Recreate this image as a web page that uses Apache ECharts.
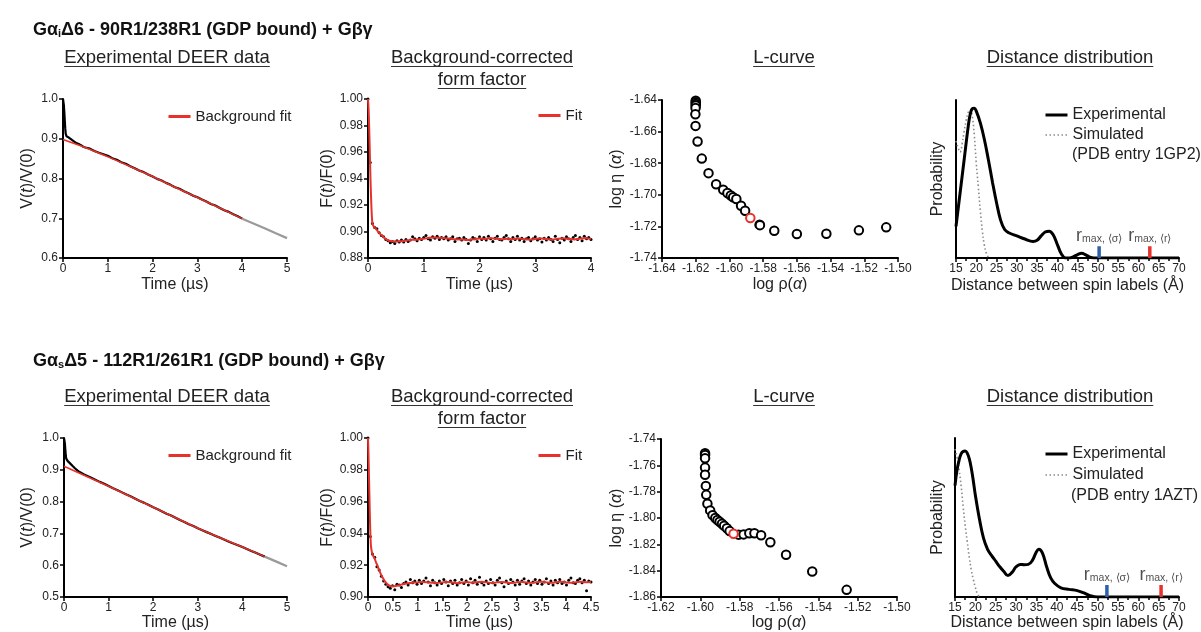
<!DOCTYPE html>
<html><head><meta charset="utf-8">
<script src="https://cdn.jsdelivr.net/npm/echarts@6/dist/echarts.min.js"></script>
<style>html,body{margin:0;padding:0;background:#fff}#c{width:1201px;height:632px}</style>
</head><body><div id="c"></div>
<script>
// ---------------- DATA ----------------
const headings = ['{b|Gα}{sub|i}{b|Δ6 - 90R1/238R1 (GDP bound) + Gβγ}', '{b|Gα}{sub|s}{b|Δ5 - 112R1/261R1 (GDP bound) + Gβγ}'];
const panelTitles = [['Experimental DEER data'], ['Background-corrected', 'form factor'], ['L-curve'], ['Distance distribution']];
const pdbEntries = ['(PDB entry 1GP2)', '(PDB entry 1AZT)'];

// Row 1 DEER (time µs, V(t)/V(0))
const deer1Trace = [[0,1.000],[0.01,0.995],[0.02,0.983],[0.03,0.965],[0.04,0.945],[0.05,0.926],[0.06,0.913],[0.07,0.908],[0.08,0.906],[0.1,0.904],[0.13,0.903],[0.16,0.901],[0.2,0.897],[0.25,0.893],[0.3,0.889],[0.35,0.887],[0.4,0.884],[0.45,0.880],[0.5,0.878],[0.6,0.875],[0.7,0.869],[0.8,0.865],[0.9,0.861],[1.0,0.857],[1.1,0.851],[1.2,0.847],[1.3,0.841],[1.4,0.837],[1.5,0.831],[1.6,0.826],[1.7,0.820],[1.8,0.816],[1.9,0.810],[2.0,0.805],[2.1,0.799],[2.2,0.795],[2.3,0.789],[2.4,0.784],[2.5,0.778],[2.6,0.774],[2.7,0.768],[2.8,0.763],[2.9,0.757],[3.0,0.753],[3.1,0.747],[3.2,0.742],[3.3,0.736],[3.4,0.732],[3.5,0.726],[3.6,0.720],[3.7,0.716],[3.8,0.710],[3.9,0.705],[4.0,0.699]];
const deer1Tail = [[4.0,0.699],[4.25,0.687],[4.5,0.675],[4.75,0.662],[5.0,0.650]];
const deer1Fit = [[0,0.898],[0.5,0.878],[1.0,0.855],[1.5,0.830],[2.0,0.805],[2.5,0.778],[3.0,0.752],[3.5,0.726],[4.0,0.699]];

// Row 2 DEER
const deer2Trace = [[0,1.000],[0.01,0.995],[0.02,0.982],[0.03,0.963],[0.04,0.945],[0.05,0.935],[0.06,0.931],[0.08,0.928],[0.1,0.925],[0.13,0.921],[0.16,0.917],[0.2,0.911],[0.25,0.904],[0.3,0.898],[0.35,0.893],[0.4,0.889],[0.45,0.885],[0.5,0.882],[0.6,0.876],[0.7,0.869],[0.8,0.862],[0.9,0.856],[1.0,0.849],[1.1,0.842],[1.2,0.836],[1.3,0.829],[1.4,0.822],[1.5,0.816],[1.6,0.809],[1.7,0.802],[1.8,0.796],[1.9,0.789],[2.0,0.782],[2.1,0.776],[2.2,0.769],[2.3,0.762],[2.4,0.756],[2.5,0.749],[2.6,0.742],[2.7,0.736],[2.8,0.729],[2.9,0.723],[3.0,0.716],[3.1,0.710],[3.2,0.704],[3.3,0.698],[3.4,0.692],[3.5,0.686],[3.6,0.680],[3.7,0.674],[3.8,0.668],[3.9,0.663],[4.0,0.657],[4.1,0.651],[4.2,0.645],[4.3,0.639],[4.4,0.633],[4.5,0.627]];
const deer2Tail = [[4.5,0.627],[4.75,0.612],[5.0,0.597]];
const deer2Fit = [[0,0.911],[0.5,0.880],[1.0,0.848],[1.5,0.815],[2.0,0.782],[2.5,0.749],[3.0,0.716],[3.5,0.686],[4.0,0.657],[4.5,0.627]];

// Form factor dots (sampled every ffStep µs) and fits
const ff1Step = 0.04;
const ff1Dots = [1.000,0.952,0.906,0.903,0.902,0.899,0.897,0.896,0.894,0.893,0.8915,0.8925,0.891,0.893,0.892,0.8935,0.892,0.894,0.8925,0.8935,0.896,0.8945,0.893,0.895,0.894,0.8955,0.897,0.8945,0.8935,0.896,0.895,0.8965,0.894,0.8955,0.8945,0.896,0.8935,0.8945,0.896,0.8925,0.8945,0.895,0.8935,0.8955,0.894,0.891,0.8935,0.8955,0.8945,0.8925,0.896,0.894,0.8955,0.8935,0.8965,0.8945,0.8925,0.895,0.8965,0.894,0.8935,0.8955,0.897,0.8945,0.8925,0.8955,0.894,0.8965,0.8935,0.895,0.8925,0.8945,0.8955,0.893,0.8945,0.896,0.8935,0.8945,0.892,0.895,0.8935,0.8955,0.894,0.8925,0.8965,0.894,0.8915,0.895,0.8935,0.896,0.8945,0.8925,0.8955,0.897,0.894,0.8955,0.893,0.8965,0.8945,0.8955,0.894];
const ff1Fit = [[0,1.000],[0.01,0.993],[0.02,0.980],[0.03,0.964],[0.04,0.947],[0.05,0.932],[0.06,0.920],[0.07,0.911],[0.08,0.906],[0.1,0.904],[0.13,0.9025],[0.16,0.901],[0.2,0.899],[0.25,0.897],[0.3,0.895],[0.35,0.8935],[0.4,0.8928],[0.5,0.8925],[0.6,0.8926],[0.7,0.8932],[0.8,0.8937],[0.9,0.894],[1.0,0.8945],[1.1,0.8952],[1.2,0.8955],[1.3,0.8952],[1.4,0.8948],[1.5,0.8944],[1.6,0.8941],[1.7,0.8939],[1.8,0.8936],[1.9,0.8942],[2.0,0.8947],[2.1,0.8944],[2.2,0.8949],[2.3,0.8945],[2.4,0.8941],[2.5,0.8946],[2.6,0.8942],[2.7,0.8947],[2.8,0.8943],[2.9,0.8938],[3.0,0.8944],[3.1,0.8948],[3.2,0.8943],[3.3,0.8939],[3.4,0.8945],[3.5,0.8949],[3.6,0.8944],[3.7,0.894],[3.8,0.8946],[3.9,0.895],[4.0,0.8945]];

const ff2Step = 0.045;
const ff2Dots = [1.000,0.938,0.927,0.925,0.919,0.917,0.913,0.910,0.908,0.9065,0.9055,0.907,0.9045,0.908,0.9075,0.906,0.9085,0.9095,0.9075,0.911,0.909,0.910,0.908,0.9105,0.9085,0.910,0.912,0.9095,0.907,0.9105,0.909,0.9075,0.910,0.9085,0.911,0.9095,0.907,0.910,0.9085,0.9105,0.9075,0.909,0.911,0.9085,0.910,0.9075,0.9115,0.909,0.9105,0.908,0.9125,0.909,0.9075,0.910,0.9085,0.911,0.909,0.9075,0.9105,0.912,0.909,0.9065,0.910,0.9085,0.911,0.9095,0.9075,0.9105,0.908,0.910,0.9115,0.9085,0.910,0.9075,0.9095,0.911,0.9085,0.9105,0.908,0.9095,0.9115,0.9085,0.910,0.9075,0.9105,0.909,0.911,0.9085,0.9095,0.9075,0.9105,0.912,0.909,0.9085,0.9105,0.9115,0.909,0.9105,0.904,0.910,0.9095];
const ff2Fit = [[0,1.000],[0.01,0.990],[0.02,0.975],[0.03,0.962],[0.04,0.948],[0.05,0.938],[0.06,0.932],[0.08,0.928],[0.1,0.926],[0.13,0.9245],[0.16,0.922],[0.2,0.919],[0.25,0.915],[0.3,0.912],[0.35,0.9095],[0.4,0.9078],[0.45,0.9069],[0.5,0.9067],[0.6,0.9072],[0.7,0.908],[0.8,0.9086],[0.9,0.909],[1.0,0.9092],[1.1,0.9095],[1.2,0.9093],[1.3,0.909],[1.4,0.9088],[1.5,0.9092],[1.6,0.9095],[1.7,0.9091],[1.8,0.9087],[1.9,0.9091],[2.0,0.9094],[2.1,0.909],[2.2,0.9093],[2.3,0.9096],[2.4,0.9092],[2.5,0.9088],[2.6,0.9092],[2.7,0.9095],[2.8,0.9091],[2.9,0.9088],[3.0,0.9092],[3.1,0.9095],[3.2,0.9091],[3.3,0.9089],[3.4,0.9093],[3.5,0.9096],[3.6,0.9092],[3.7,0.9089],[3.8,0.9093],[3.9,0.9096],[4.0,0.9092],[4.1,0.9089],[4.2,0.9093],[4.3,0.9096],[4.4,0.9093],[4.5,0.9095]];

// L-curves [log rho, log eta]
const lc1Points = [[-1.6200,-1.6405],[-1.6200,-1.6415],[-1.6200,-1.6425],[-1.6200,-1.6435],[-1.6201,-1.6450],[-1.6202,-1.6490],[-1.6201,-1.6564],[-1.6189,-1.6663],[-1.6164,-1.6771],[-1.6124,-1.6863],[-1.6079,-1.6933],[-1.6037,-1.6968],[-1.6012,-1.6989],[-1.5992,-1.7004],[-1.5978,-1.7015],[-1.5959,-1.7027],[-1.5931,-1.7069],[-1.5907,-1.7101],[-1.5821,-1.7189],[-1.5819,-1.7192],[-1.5734,-1.7227],[-1.5600,-1.7248],[-1.5425,-1.7246],[-1.5232,-1.7225],[-1.5070,-1.7206]];
const lc1Chosen = [[-1.5876,-1.7147]];
const lc2Points = [[-1.5976,-1.7508],[-1.5976,-1.7521],[-1.5976,-1.7546],[-1.5976,-1.7617],[-1.5976,-1.7672],[-1.5972,-1.7756],[-1.5970,-1.7824],[-1.5964,-1.7892],[-1.5950,-1.7942],[-1.5938,-1.7978],[-1.5924,-1.8000],[-1.5913,-1.8015],[-1.5902,-1.8028],[-1.5890,-1.8043],[-1.5879,-1.8058],[-1.5865,-1.8078],[-1.5851,-1.8099],[-1.5805,-1.8126],[-1.5780,-1.8124],[-1.5751,-1.8116],[-1.5725,-1.8116],[-1.5691,-1.8131],[-1.5644,-1.8184],[-1.5564,-1.8278],[-1.5431,-1.8406],[-1.5256,-1.8545]];
const lc2Chosen = [[-1.5831,-1.8119]];

// Distance distributions [Å, probability]
const dist1Exp = [[15,0.20],[16,0.41],[17,0.62],[18,0.83],[18.5,0.91],[19,0.945],[19.5,0.948],[20,0.93],[21,0.855],[22,0.75],[23,0.62],[24,0.48],[25,0.35],[26,0.24],[27,0.18],[28,0.16],[30,0.14],[32,0.12],[34,0.105],[35,0.112],[36,0.14],[37,0.165],[38,0.17],[39,0.145],[40,0.085],[41,0.025],[42,0.0],[43,0.0],[44,0.008],[45,0.022],[46,0.03],[47,0.02],[48,0.006],[49,0],[50,0],[70,0]];
const dist1Sim = [[15,0.74],[15.5,0.70],[16,0.67],[16.5,0.72],[17,0.80],[17.5,0.87],[18,0.92],[18.5,0.94],[19,0.90],[19.5,0.78],[20,0.60],[20.5,0.45],[21,0.30],[21.5,0.17],[22,0.08],[22.5,0.03],[23,0.005],[23.5,0]];
const dist2Exp = [[15,0.70],[15.5,0.80],[16,0.86],[16.5,0.90],[17,0.915],[17.5,0.918],[18,0.905],[18.5,0.87],[19,0.81],[19.5,0.73],[20,0.64],[21,0.49],[22,0.37],[23,0.30],[24,0.26],[25,0.225],[26,0.19],[27,0.16],[28,0.135],[29,0.155],[30,0.19],[31,0.205],[32,0.203],[33,0.205],[34,0.23],[35,0.285],[35.6,0.30],[36.5,0.275],[37.5,0.19],[38.5,0.12],[39.5,0.085],[41,0.058],[43,0.048],[45,0.04],[46.5,0.027],[48,0.01],[50,0],[70,0]];
const dist2Sim = [[15,0.93],[15.5,0.88],[16,0.80],[16.5,0.70],[17,0.57],[17.5,0.45],[18,0.35],[18.5,0.25],[19,0.17],[19.5,0.11],[20,0.06],[20.5,0.02],[21,0]];
// r_max markers [Å of <sigma> marker, Å of <r> marker], marker height (probability units)
const rmax1 = [50.3, 62.8];
const rmax2 = [52.3, 65.6];
const rmaxHeight = 0.075;

// ---------------- CHART ----------------
const FF = '"Liberation Sans", Arial, Helvetica, sans-serif';
const RED = '#e8312a', BLUE = '#2d5fab', TXT = '#222';
const chart = echarts.init(document.getElementById('c'), null, {renderer: 'canvas'});

const grids = [
  {left: 63, top: 99, width: 224, height: 159},
  {left: 368, top: 99, width: 223, height: 159},
  {left: 662, top: 100, width: 236, height: 158},
  {left: 956, top: 100, width: 223, height: 158},
  {left: 64, top: 438, width: 223, height: 159},
  {left: 368, top: 438, width: 223, height: 159},
  {left: 661, top: 439, width: 236, height: 159},
  {left: 955, top: 438, width: 224, height: 159}
];

function ax(g, o) {
  const base = {
    gridIndex: g, type: 'value',
    axisLine: {show: true, onZero: false, lineStyle: {color: '#000', width: 2}},
    axisTick: {show: true, length: 4, lineStyle: {color: '#000', width: 1.5}},
    axisLabel: {color: TXT, fontSize: 12, fontFamily: FF, margin: 5},
    splitLine: {show: false},
    nameLocation: 'middle',
    nameTextStyle: {color: TXT, fontSize: 16, fontFamily: FF, rich: {i: {fontStyle: 'italic', fontSize: 16, fontFamily: FF, color: TXT}}}
  };
  return Object.assign(base, o);
}
const f1 = v => v.toFixed(1), f2 = v => v.toFixed(2);
const timeName = 'Time (µs)';
const xAxes = [
  ax(0, {min: 0, max: 5, interval: 1, name: timeName, nameGap: 19}),
  ax(1, {min: 0, max: 4, interval: 1, name: timeName, nameGap: 19}),
  ax(2, {min: -1.64, max: -1.50, interval: 0.02, name: 'log ρ({i|α})', nameGap: 19, axisLabel: {color: TXT, fontSize: 12, fontFamily: FF, formatter: f2, margin: 5}}),
  ax(3, {min: 15, max: 70, interval: 5, name: 'Distance between spin labels (Å)', nameGap: 20, minorTick: {show: true, splitNumber: 2, length: 3, lineStyle: {color: '#000', width: 1.5}}}),
  ax(4, {min: 0, max: 5, interval: 1, name: timeName, nameGap: 17}),
  ax(5, {min: 0, max: 4.5, interval: 0.5, name: timeName, nameGap: 17}),
  ax(6, {min: -1.62, max: -1.50, interval: 0.02, name: 'log ρ({i|α})', nameGap: 16, axisLabel: {color: TXT, fontSize: 12, fontFamily: FF, formatter: f2, margin: 5}}),
  ax(7, {min: 15, max: 70, interval: 5, name: 'Distance between spin labels (Å)', nameGap: 14, minorTick: {show: true, splitNumber: 2, length: 3, lineStyle: {color: '#000', width: 1.5}}})
];
const lab = fmt => ({color: TXT, fontSize: 12, fontFamily: FF, formatter: fmt, margin: 5});
const yAxes = [
  ax(0, {min: 0.6, max: 1.0, interval: 0.1, name: 'V({i|t})/V(0)', nameGap: 27, axisLabel: lab(f1)}),
  ax(1, {min: 0.88, max: 1.0, interval: 0.02, name: 'F({i|t})/F(0)', nameGap: 32, axisLabel: lab(f2)}),
  ax(2, {min: -1.74, max: -1.64, interval: 0.02, name: 'log η ({i|α})', nameGap: 37, axisLabel: lab(f2)}),
  ax(3, {min: 0, max: 1, name: 'Probability', nameGap: 10, axisTick: {show: false}, axisLabel: {show: false}}),
  ax(4, {min: 0.5, max: 1.0, interval: 0.1, name: 'V({i|t})/V(0)', nameGap: 28, axisLabel: lab(f1)}),
  ax(5, {min: 0.90, max: 1.0, interval: 0.02, name: 'F({i|t})/F(0)', nameGap: 32, axisLabel: lab(f2)}),
  ax(6, {min: -1.86, max: -1.74, interval: 0.02, name: 'log η ({i|α})', nameGap: 36, axisLabel: lab(f2)}),
  ax(7, {min: 0, max: 1, name: 'Probability', nameGap: 9, axisTick: {show: false}, axisLabel: {show: false}})
];

const series = [];
function line(g, data, color, width, name, extra) {
  series.push(Object.assign({type: 'line', name: name, xAxisIndex: g, yAxisIndex: g, data: data, symbol: 'none', silent: true,
    lineStyle: {color: color, width: width}, itemStyle: {color: color}}, extra || {}));
}
function dots(g, step, vals) {
  series.push({type: 'scatter', xAxisIndex: g, yAxisIndex: g, silent: true, symbolSize: 3,
    itemStyle: {color: '#000', opacity: 1}, data: vals.map((v, i) => [i * step, v])});
}
function lcurve(g, pts, chosen) {
  series.push({type: 'scatter', xAxisIndex: g, yAxisIndex: g, silent: true, symbol: 'emptyCircle', symbolSize: 8.5,
    itemStyle: {color: '#000', borderColor: '#000', borderWidth: 2, opacity: 1}, data: pts});
  series.push({type: 'scatter', xAxisIndex: g, yAxisIndex: g, silent: true, symbol: 'emptyCircle', symbolSize: 8.5, z: 3,
    itemStyle: {color: RED, borderColor: RED, borderWidth: 2, opacity: 1}, data: chosen});
}
function rmax(g, xs) {
  line(g, [[xs[0], 0], [xs[0], rmaxHeight]], BLUE, 3.5, undefined, {z: 4});
  line(g, [[xs[1], 0], [xs[1], rmaxHeight]], RED, 3.5, undefined, {z: 4});
  const rich = {r: {fontSize: 18, fontFamily: FF, color: TXT, lineHeight: 18}, s: {fontSize: 10.5, fontFamily: FF, color: TXT, verticalAlign: 'bottom', lineHeight: 18}};
  series.push({type: 'scatter', xAxisIndex: g, yAxisIndex: g, silent: true, symbolSize: 1, itemStyle: {color: 'rgba(0,0,0,0)'},
    label: {show: true, position: 'top', distance: 1, rich: rich},
    data: [{value: [xs[0], rmaxHeight], label: {formatter: '{r|r}{s|max, ⟨σ⟩}'}}, {value: [xs[1], rmaxHeight], label: {formatter: '{r|r}{s|max, ⟨r⟩}'}}]});
}

// Row 1
line(0, deer1Trace, '#000', 2.2);
line(0, deer1Tail, '#9a9a9a', 2.2);
line(0, deer1Fit, RED, 1.6, 'Background fit');
dots(1, ff1Step, ff1Dots);
line(1, ff1Fit, RED, 2, 'Fit', {smooth: 0.3});
lcurve(2, lc1Points, lc1Chosen);
line(3, dist1Sim, '#8a8a8a', 1.6, 'Simulated', {smooth: 0.4, lineStyle: {color: '#8a8a8a', width: 1.6, type: [1.5, 2.5]}});
line(3, dist1Exp, '#000', 3, 'Experimental', {smooth: 0.4});
rmax(3, rmax1);
// Row 2
line(4, deer2Trace, '#000', 2.2);
line(4, deer2Tail, '#9a9a9a', 2.2);
line(4, deer2Fit, RED, 1.6, 'Background fit');
dots(5, ff2Step, ff2Dots);
line(5, ff2Fit, RED, 2, 'Fit', {smooth: 0.3});
lcurve(6, lc2Points, lc2Chosen);
line(7, dist2Sim, '#8a8a8a', 1.6, 'Simulated', {smooth: 0.4, lineStyle: {color: '#8a8a8a', width: 1.6, type: [1.5, 2.5]}});
line(7, dist2Exp, '#000', 3, 'Experimental', {smooth: 0.4});
rmax(7, rmax2);

const legTxt = {fontSize: 15, color: TXT, fontFamily: FF};
function leg(left, top, names, extra) {
  return Object.assign({left: left, top: top, itemWidth: 22, itemHeight: 14, itemGap: 2, orient: 'vertical', padding: 0,
    selectedMode: false, data: names, textStyle: legTxt, lineStyle: {width: 3}, itemStyle: {opacity: 0}}, extra || {});
}
const distLeg = {textStyle: {fontSize: 16, color: TXT, fontFamily: FF, lineHeight: 20}, itemGap: 0, lineStyle: {width: 'inherit'}, itemWidth: 22};
const legends = [
  leg(167, 109, ['Background fit']),
  leg(537, 108, ['Fit']),
  leg(1044, 105, ['Experimental', 'Simulated'], distLeg),
  leg(167, 448, ['Background fit']),
  leg(537, 448, ['Fit']),
  leg(1044, 444, ['Experimental', 'Simulated'], Object.assign({}, distLeg, {itemGap: 1}))
];

// Text graphics
const meas = document.createElement('canvas').getContext('2d');
const graphics = [];
const headY = [30, 361];
headings.forEach((h, r) => {
  graphics.push({type: 'text', x: 33, y: headY[r], silent: true, style: {text: h, align: 'left', verticalAlign: 'middle', fill: '#111',
    rich: {b: {fontSize: 18, fontWeight: 'bold', fontFamily: FF, fill: '#111', color: '#111'}, sub: {fontSize: 11, fontWeight: 'bold', fontFamily: FF, verticalAlign: 'bottom', fill: '#111', color: '#111'}}}});
});
const titleX = [167, 482, 784, 1070];
const titleY = [[58, 80], [397, 419]];
const tFont = '18.5px ' + FF;
meas.font = tFont;
[0, 1].forEach(r => {
  panelTitles.forEach((lines, c) => {
    lines.forEach((t, k) => {
      const y = titleY[r][k];
      graphics.push({type: 'text', x: titleX[c], y: y, silent: true, style: {text: t, font: tFont, fill: TXT, align: 'center', verticalAlign: 'middle'}});
      const w = meas.measureText(t).width;
      graphics.push({type: 'line', silent: true, shape: {x1: titleX[c] - w / 2, y1: y + 8.5, x2: titleX[c] + w / 2, y2: y + 8.5}, style: {stroke: '#333', lineWidth: 1}});
    });
  });
});
[[1072, 155], [1071, 496]].forEach((p, r) => {
  graphics.push({type: 'text', x: p[0], y: p[1], silent: true, style: {text: pdbEntries[r], font: '16px ' + FF, fill: TXT, align: 'left', verticalAlign: 'middle'}});
});

chart.setOption({
  animation: false,
  backgroundColor: '#fff',
  grid: grids,
  xAxis: xAxes,
  yAxis: yAxes,
  legend: legends,
  series: series,
  graphic: graphics
});
</script></body></html>
